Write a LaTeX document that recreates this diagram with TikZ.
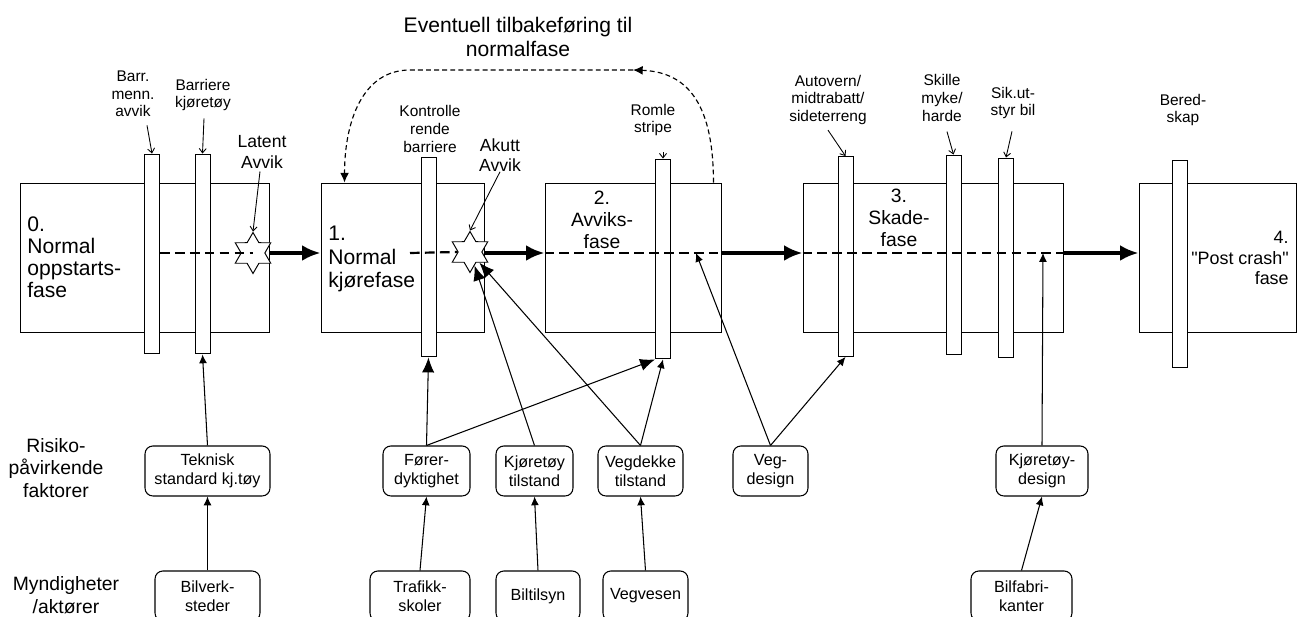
\documentclass[tikz,border=0pt]{standalone}
\usepackage{fontspec}
\setmainfont{Liberation Sans}
\newfontfamily\plainsans{Liberation Sans}
\usetikzlibrary{shapes.geometric, arrows.meta, positioning, calc}

\begin{document}
\begin{tikzpicture}[
    x=0.02cm, y=-0.02cm,
    phase/.style={rectangle, draw, fill=white, minimum height=3cm, line width=0.55pt},
    barrier/.style={rectangle, draw, fill=white, minimum width=0.3cm, minimum height=4cm, inner sep=0pt, line width=0.55pt},
    deviation/.style={star, star points=6, star point ratio=1.73, minimum size=0.82cm, inner sep=0pt, draw, fill=white, line width=0.55pt},
    phasetext/.style={inner sep=0pt, font=\fontsize{12pt}{12.5pt}\selectfont},
    tag/.style={inner sep=0pt, align=center, font=\fontsize{8.8pt}{10pt}\selectfont},
    factor/.style={rectangle, draw, rounded corners=4.5pt, minimum height=1cm, align=center, inner sep=1pt, font=\fontsize{9.2pt}{10.8pt}\selectfont, line width=0.6pt},
    rowlabel/.style={inner sep=0pt, align=center, font=\fontsize{11pt}{13pt}\selectfont},
    track/.style={dash pattern=on 5.5pt off 3pt, line width=1.25pt},
    flow/.style={-{Latex[length=10.5pt,width=9pt]}, line width=2pt},
    arrow/.style={-{Latex[length=5pt,width=4.5pt]}, line width=0.6pt},
    bigarrow/.style={-{Latex[length=8.5pt,width=7pt]}, line width=0.6pt},
    pointer/.style={-{Straight Barb[length=2.5pt,width=4pt]}, line width=0.5pt},
    feedback/.style={-{Latex[length=5.5pt,width=5pt]}, dash pattern=on 2.8pt off 1.8pt, line width=0.65pt}
]
    \useasboundingbox (0,0) rectangle (1303,617);
    \fill[white] (0,0) rectangle (1303,617);
    \coordinate (axis) at (0,253);

    % Phases
    \node[phase, minimum width=5cm] (ph0) at (145,258) {};
    \node[phase, minimum width=3.26cm] (ph1) at (402.5,258) {};
    \node[phase, minimum width=3.52cm] (ph2) at (633,258) {};
    \node[phase, minimum width=5.22cm] (ph3) at (933.5,258) {};
    \node[phase, minimum width=3.14cm] (ph4) at (1217.5,258) {};

    % Barriers
    \node[barrier] (b0a) at (152,254) {};
    \node[barrier] (b0b) at (202.5,254) {};
    \node[barrier] (b1) at (428.5,257) {};
    \node[barrier] (b2) at (663,259) {};
    \node[barrier] (b3a) at (845.5,256.5) {};
    \node[barrier] (b3b) at (953.5,255) {};
    \node[barrier] (b3c) at (1006,258) {};
    \node[barrier, minimum height=4.16cm] (b4) at (1179.5,264) {};

    % Phase texts
    \node[phasetext, anchor=west, align=left] (t0) at (27,257) {0.\\Normal\\oppstarts-\\fase};
    \node[phasetext, anchor=west, align=left, font=\fontsize{12pt}{13.5pt}\selectfont] (t1) at (328,259) {1.\\Normal\\kjørefase};
    \node[phasetext, align=center, font=\fontsize{11pt}{12.7pt}\selectfont] (t2) at (602,220) {2.\\Avviks-\\fase};
    \node[phasetext, align=center, font=\fontsize{11pt}{12.7pt}\selectfont] (t3) at (899,218) {3.\\Skade-\\fase};
    \node[phasetext, anchor=east, align=right, font=\fontsize{10.2pt}{11.8pt}\selectfont] (t4) at (1289,258) {4.\\{\plainsans"Post crash"}\\fase};

    % Deviations and tracks
    \node[deviation] (star0) at (253,253) {};
    \node[deviation] (star1) at (470,252) {};
    \coordinate (trk1) at (410,253);
    \draw[track] (b0a.east |- axis) -- (star0.center);
    \draw[track] (trk1) -- (star1.west);
    \draw[track] (ph2.west |- axis) -- (ph2.east |- axis);
    \draw[track] (ph3.west |- axis) -- (ph3.east |- axis);

    % Flow between phases
    \draw[flow] (ph0.east |- axis) -- (ph1.west |- axis);
    \draw[flow] (ph1.east |- axis) -- (ph2.west |- axis);
    \draw[flow] (ph2.east |- axis) -- (ph3.west |- axis);
    \draw[flow] (ph3.east |- axis) -- (ph4.west |- axis);

    % Barrier labels
    \node[tag] (lbarr) at (133,94) {Barr.\\menn.\\avvik};
    \node[tag] (lbkj) at (203,95) {Barriere\\kjøretøy};
    \node[tag, font=\fontsize{10pt}{11.5pt}\selectfont] (llat) at (262,152) {Latent\\Avvik};
    \node[tag] (lkont) at (430,129) {Kontrolle\\rende\\barriere};
    \node[tag, font=\fontsize{10pt}{11.5pt}\selectfont] (lakutt) at (500,155) {Akutt\\Avvik};
    \node[tag] (lromle) at (653,120) {Romle\\stripe};
    \node[tag] (lauto) at (828,100) {Autovern/\\midtrabatt/\\sideterreng};
    \node[tag] (lskille) at (942,98) {Skille\\myke/\\harde};
    \node[tag] (lsik) at (1013,103) {Sik.ut-\\styr bil};
    \node[tag] (lbered) at (1183,110) {Bered-\\skap};

    \draw[pointer] ($(lbarr.south)+(14,8)$) -- (b0a.north);
    \draw[pointer] ($(lbkj.south)+(1,7)$) -- (b0b.north);
    \draw[pointer] ($(llat.south)+(-2,3)$) -- (star0.north);
    \draw[pointer] (lakutt.south) -- (star1.north);
    \draw[pointer] ($(lromle.south)+(10,16)$) -- (b2.north);
    \draw[pointer] ($(lauto.south)+(0,5)$) -- (b3a.north);
    \draw[pointer] ($(lskille.south)+(5,10)$) -- (b3b.north);
    \draw[pointer] ($(lsik.south)+(-1,12)$) -- (b3c.north);

    % Feedback to normal phase
    \node[align=center, inner sep=0pt, font=\fontsize{12pt}{14pt}\selectfont] (lback) at (518,37) {Eventuell tilbakeføring til\\normalfase};
    \coordinate (back) at (633,70);
    \coordinate (bend) at (410,70);
    \draw[feedback] ($(ph2.north east)+(-8,0)$) .. controls +(0,-75) and +(57,2) .. (back);
    \draw[feedback] (back) -- (bend) .. controls +(-48,0) and +(0,-60) .. ($(ph1.north west)+(24,0)$);

    % Risk factors
    \node[rowlabel] (rrisk) at (56,468) {Risiko-\\påvirkende\\faktorer};
    \node[factor, minimum width=2.5cm] (tek) at (207.5,471) {Teknisk\\standard kj.tøy};
    \node[factor, minimum width=1.74cm] (forer) at (426.5,471) {Fører-\\dyktighet};
    \node[factor, minimum width=1.54cm] (kjtil) at (534.5,471) {Kjøretøy\\tilstand};
    \node[factor, minimum width=1.7cm] (vegdekke) at (640.5,471) {Vegdekke\\tilstand};
    \node[factor, minimum width=1.5cm] (vegdesign) at (770.5,471) {Veg-\\design};
    \node[factor, minimum width=1.84cm] (kjdesign) at (1042,471) {Kjøretøy-\\design};

    % Authorities
    \node[rowlabel] (rauth) at (66,595) {Myndigheter\\/aktører};
    \node[factor, minimum width=2.1cm] (bilverk) at (207.5,596) {Bilverk-\\steder};
    \node[factor, minimum width=2cm] (trafikk) at (420,596) {Trafikk-\\skoler};
    \node[factor, minimum width=1.68cm] (biltilsyn) at (538,596) {Biltilsyn};
    \node[factor, minimum width=1.7cm] (vegvesen) at (645.5,596) {Vegvesen};
    \node[factor, minimum width=2.02cm] (bilfabrik) at (1021.5,596) {Bilfabri-\\kanter};

    % Influence arrows
    \coordinate (hit2) at (696,253);
    \coordinate (hit3) at (1043,253);
    \draw[arrow] (bilverk.north) -- (tek.south);
    \draw[arrow] (tek.north) -- (b0b.south);
    \draw[arrow] (trafikk.north) -- (forer.south);
    \draw[bigarrow] (forer.north) -- (b1.south);
    \draw[bigarrow] (forer.north) -- (b2.south west);
    \draw[arrow] (biltilsyn.north) -- (kjtil.south);
    \draw[bigarrow] (kjtil.north) -- (star1);
    \draw[arrow] (vegvesen.north) -- (vegdekke.south);
    \draw[bigarrow] (vegdekke.north) -- (star1);
    \draw[arrow] (vegdekke.north) -- (b2.south);
    \draw[arrow] (vegdesign.north) -- (hit2);
    \draw[arrow] (vegdesign.north) -- (b3a.south);
    \draw[arrow] (bilfabrik.north) -- (kjdesign.south);
    \draw[arrow] (kjdesign.north) -- (hit3);
\end{tikzpicture}
\end{document}
